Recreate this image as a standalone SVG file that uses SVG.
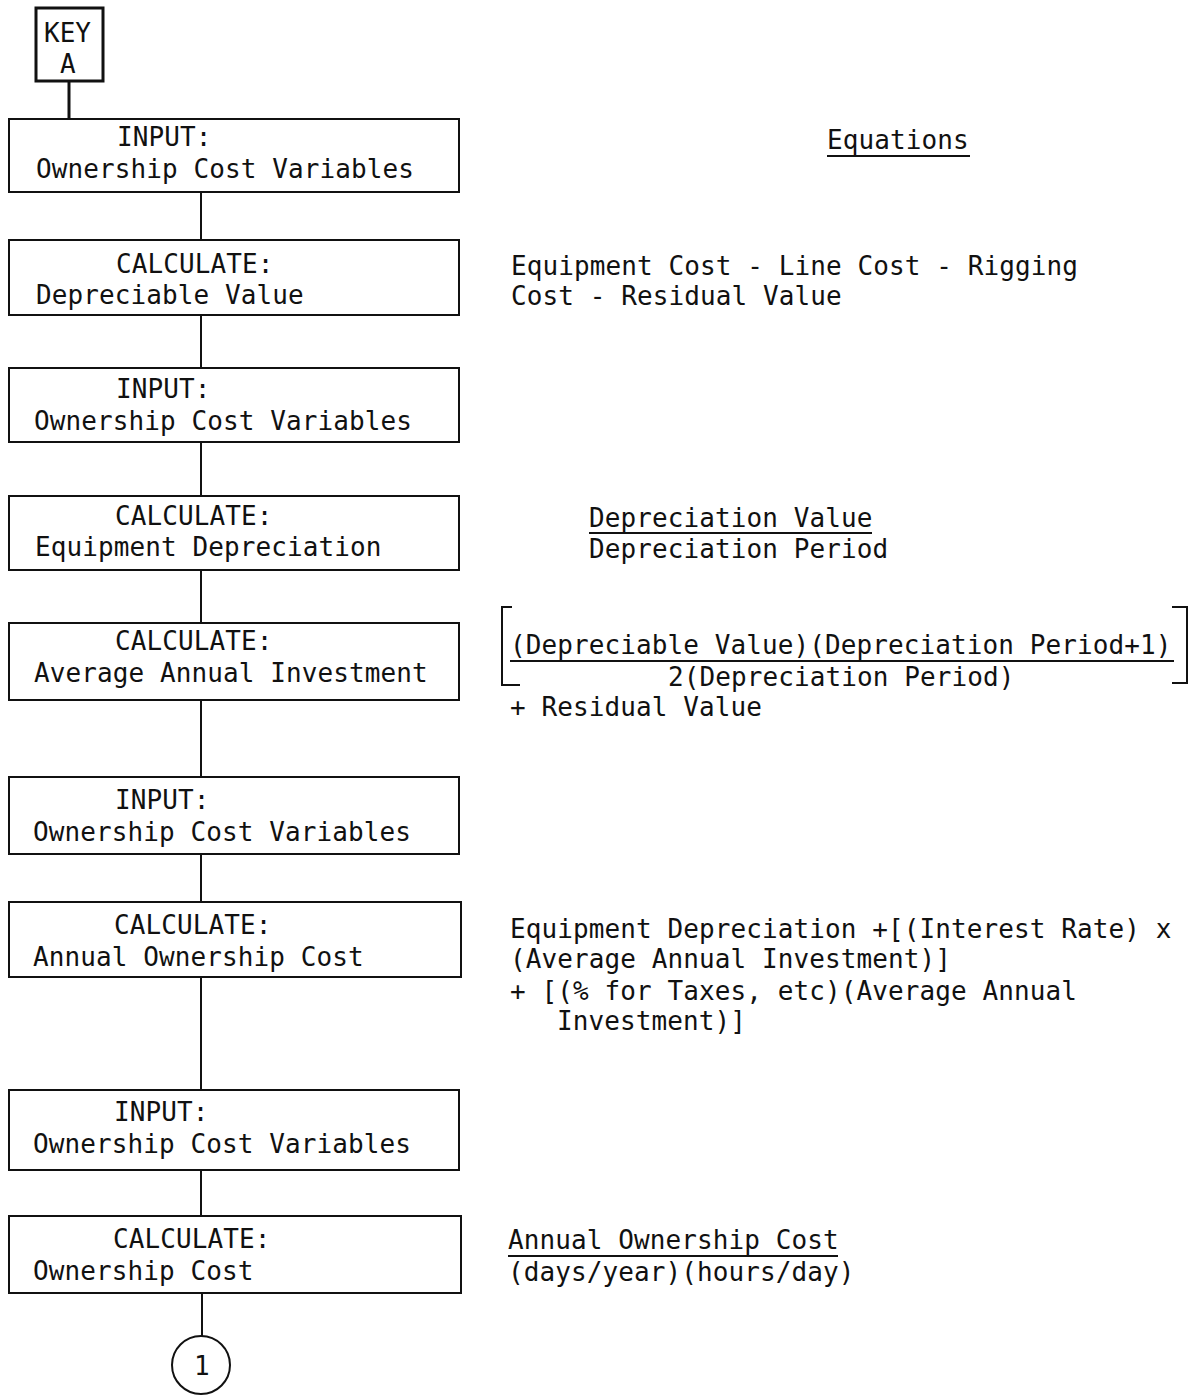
<svg xmlns="http://www.w3.org/2000/svg" width="1199" height="1397" viewBox="0 0 1199 1397">
<style>
text{font-family:"DejaVu Sans Mono","Liberation Mono",monospace;font-size:26px;fill:#111}
.box{fill:#fff;stroke:#111;stroke-width:2}
.ln{stroke:#111;stroke-width:2;fill:none}
</style>
<rect width="1199" height="1397" fill="#fff"/>
<g id="connectors">
<line class="ln" x1="69" y1="81" x2="69" y2="119" style="stroke-width:3"/>
<line class="ln" x1="201" y1="192" x2="201" y2="240"/>
<line class="ln" x1="201" y1="315" x2="201" y2="368"/>
<line class="ln" x1="201" y1="442" x2="201" y2="496"/>
<line class="ln" x1="201" y1="570" x2="201" y2="623"/>
<line class="ln" x1="201" y1="700" x2="201" y2="777"/>
<line class="ln" x1="201" y1="854" x2="201" y2="902"/>
<line class="ln" x1="201" y1="977" x2="201" y2="1090"/>
<line class="ln" x1="201" y1="1170" x2="201" y2="1216"/>
<line class="ln" x1="202" y1="1293" x2="202" y2="1336"/>
</g>
<g id="keyA">
<rect x="36" y="8" width="67" height="73" fill="#fff" stroke="#111" stroke-width="3"/>
<text x="44" y="42" textLength="47" lengthAdjust="spacing">KEY</text>
<text x="60" y="73">A</text>
</g>
<g id="n1">
<rect class="box" x="9" y="119" width="450" height="73"/>
<text x="117" y="146" textLength="94.5" lengthAdjust="spacing">INPUT:</text>
<text x="36" y="178" textLength="378" lengthAdjust="spacing">Ownership Cost Variables</text>
</g>
<g id="n2">
<rect class="box" x="9" y="240" width="450" height="75"/>
<text x="116" y="273" textLength="157.5" lengthAdjust="spacing">CALCULATE:</text>
<text x="36" y="304" textLength="267.75" lengthAdjust="spacing">Depreciable Value</text>
</g>
<g id="n3">
<rect class="box" x="9" y="368" width="450" height="74"/>
<text x="116" y="398" textLength="94.5" lengthAdjust="spacing">INPUT:</text>
<text x="34" y="430" textLength="378" lengthAdjust="spacing">Ownership Cost Variables</text>
</g>
<g id="n4">
<rect class="box" x="9" y="496" width="450" height="74"/>
<text x="115" y="525" textLength="157.5" lengthAdjust="spacing">CALCULATE:</text>
<text x="35" y="556" textLength="346.5" lengthAdjust="spacing">Equipment Depreciation</text>
</g>
<g id="n5">
<rect class="box" x="9" y="623" width="450" height="77"/>
<text x="115" y="650" textLength="157.5" lengthAdjust="spacing">CALCULATE:</text>
<text x="34" y="682" textLength="393.75" lengthAdjust="spacing">Average Annual Investment</text>
</g>
<g id="n6">
<rect class="box" x="9" y="777" width="450" height="77"/>
<text x="115" y="809" textLength="94.5" lengthAdjust="spacing">INPUT:</text>
<text x="33" y="841" textLength="378" lengthAdjust="spacing">Ownership Cost Variables</text>
</g>
<g id="n7">
<rect class="box" x="9" y="902" width="452" height="75"/>
<text x="114" y="934" textLength="157.5" lengthAdjust="spacing">CALCULATE:</text>
<text x="33" y="966" textLength="330.75" lengthAdjust="spacing">Annual Ownership Cost</text>
</g>
<g id="n8">
<rect class="box" x="9" y="1090" width="450" height="80"/>
<text x="114" y="1121" textLength="94.5" lengthAdjust="spacing">INPUT:</text>
<text x="33" y="1153" textLength="378" lengthAdjust="spacing">Ownership Cost Variables</text>
</g>
<g id="n9">
<rect class="box" x="9" y="1216" width="452" height="77"/>
<text x="113" y="1248" textLength="157.5" lengthAdjust="spacing">CALCULATE:</text>
<text x="33" y="1280" textLength="220.5" lengthAdjust="spacing">Ownership Cost</text>
</g>
<g id="connector1">
<circle cx="201" cy="1365" r="29" fill="#fff" stroke="#111" stroke-width="2"/>
<text x="194" y="1375">1</text>
</g>
<g id="equations">
<text x="827" y="149" textLength="141.75" lengthAdjust="spacing">Equations</text>
<line class="ln" x1="827" y1="156" x2="970" y2="156"/>
<text x="511" y="275" textLength="567" lengthAdjust="spacing">Equipment Cost - Line Cost - Rigging</text>
<text x="511" y="305" textLength="330.75" lengthAdjust="spacing">Cost - Residual Value</text>
<text x="589" y="527" textLength="283.5" lengthAdjust="spacing">Depreciation Value</text>
<line class="ln" x1="589" y1="533" x2="872" y2="533"/>
<text x="589" y="558" textLength="299.25" lengthAdjust="spacing">Depreciation Period</text>
<path class="ln" d="M512 607 H502 V685 H520"/>
<path class="ln" d="M1172 607 H1187 V683 H1172"/>
<text x="510" y="654" textLength="661.5" lengthAdjust="spacing">(Depreciable Value)(Depreciation Period+1)</text>
<line class="ln" x1="510" y1="661" x2="1174" y2="661"/>
<text x="668" y="686" textLength="346.5" lengthAdjust="spacing">2(Depreciation Period)</text>
<text x="510" y="716" textLength="252" lengthAdjust="spacing">+ Residual Value</text>
<text x="510" y="938" textLength="661.5" lengthAdjust="spacing">Equipment Depreciation +[(Interest Rate) x</text>
<text x="510" y="968" textLength="441" lengthAdjust="spacing">(Average Annual Investment)]</text>
<text x="510" y="1000" textLength="567" lengthAdjust="spacing">+ [(% for Taxes, etc)(Average Annual</text>
<text x="557" y="1030" textLength="189" lengthAdjust="spacing">Investment)]</text>
<text x="508" y="1249" textLength="330.75" lengthAdjust="spacing">Annual Ownership Cost</text>
<line class="ln" x1="508" y1="1256" x2="838" y2="1256"/>
<text x="508" y="1281" textLength="346.5" lengthAdjust="spacing">(days/year)(hours/day)</text>
</g>
</svg>
